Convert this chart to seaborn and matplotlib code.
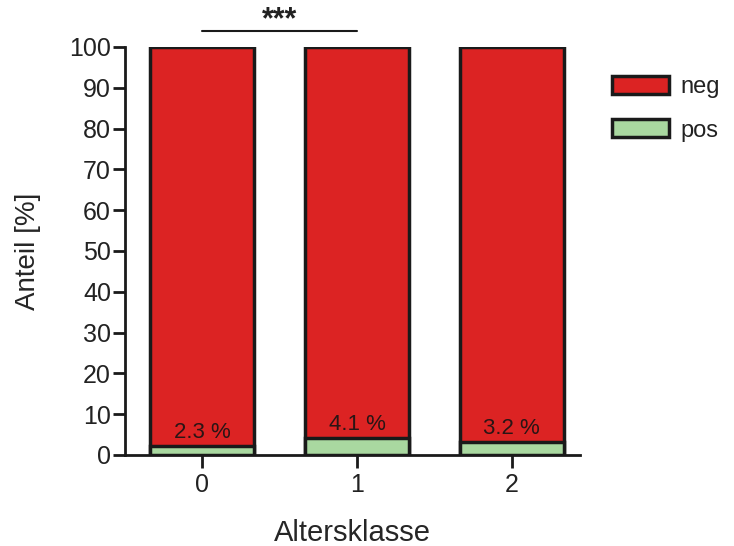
import matplotlib
matplotlib.use("Agg")
import matplotlib.pyplot as plt
import seaborn as sns
import pandas as pd
from matplotlib.patches import Patch

# Data
klassen = ["0", "1", "2"]
pos = [2.3, 4.1, 3.2]
neg = [100 - p for p in pos]
labels = ["2.3 %", "4.1 %", "3.2 %"]

sns.set_theme(style="ticks")
plt.rcParams["font.family"] = ["Liberation Sans", "DejaVu Sans"]

df = pd.DataFrame({"Altersklasse": klassen, "pos": pos, "neg": neg})
df["total"] = df["pos"] + df["neg"]

red = "#dc2323"
green = "#a9d8a0"
ink = "#1a1a1a"

fig = plt.figure(figsize=(7.34, 5.46), dpi=100)
ax = fig.add_axes([0.17, 0.1667, 0.62, 0.7473])

sns.barplot(data=df, x="Altersklasse", y="total", color=red, width=0.67,
            edgecolor=ink, linewidth=2.5, saturation=1, ax=ax)
sns.barplot(data=df, x="Altersklasse", y="pos", color=green, width=0.67,
            edgecolor=ink, linewidth=2.5, saturation=1, ax=ax)

for i, (p, lab) in enumerate(zip(pos, labels)):
    ax.text(i, p + 0.7, lab, ha="center", va="bottom", fontsize=16, color="#2a1515")

ax.set_ylim(0, 100)
ax.set_xlim(-0.5, 2.44)
ax.set_yticks(range(0, 101, 10))
ax.set_ylabel("Anteil [%]", fontsize=20, labelpad=20)
ax.set_xlabel("Altersklasse", fontsize=21, labelpad=16)
ax.tick_params(axis="both", labelsize=18, width=2, length=9, color=ink, labelcolor="#222222")
ax.tick_params(axis="y", pad=1)
ax.tick_params(axis="x", pad=4)
for s in ["left", "bottom"]:
    ax.spines[s].set_linewidth(2)
    ax.spines[s].set_color(ink)
sns.despine(ax=ax)

# significance bracket between groups 0 and 1
ax.plot([0, 1], [104, 104], color=ink, lw=1.5, clip_on=False)
ax.text(0.5, 104.6, "***", ha="center", va="baseline", fontsize=22, fontweight="bold",
        color="#222222", clip_on=False)

handles = [Patch(facecolor=red, edgecolor=ink, linewidth=2.5, label="neg"),
           Patch(facecolor=green, edgecolor=ink, linewidth=2.5, label="pos")]
fig.legend(handles=handles, loc="upper left", bbox_to_anchor=(0.805, 0.9),
           frameon=False, fontsize=17, handlelength=2.4, handleheight=0.8,
           labelspacing=0.9, handletextpad=0.5, labelcolor="#222222")

fig.savefig("out.png", dpi=100)
